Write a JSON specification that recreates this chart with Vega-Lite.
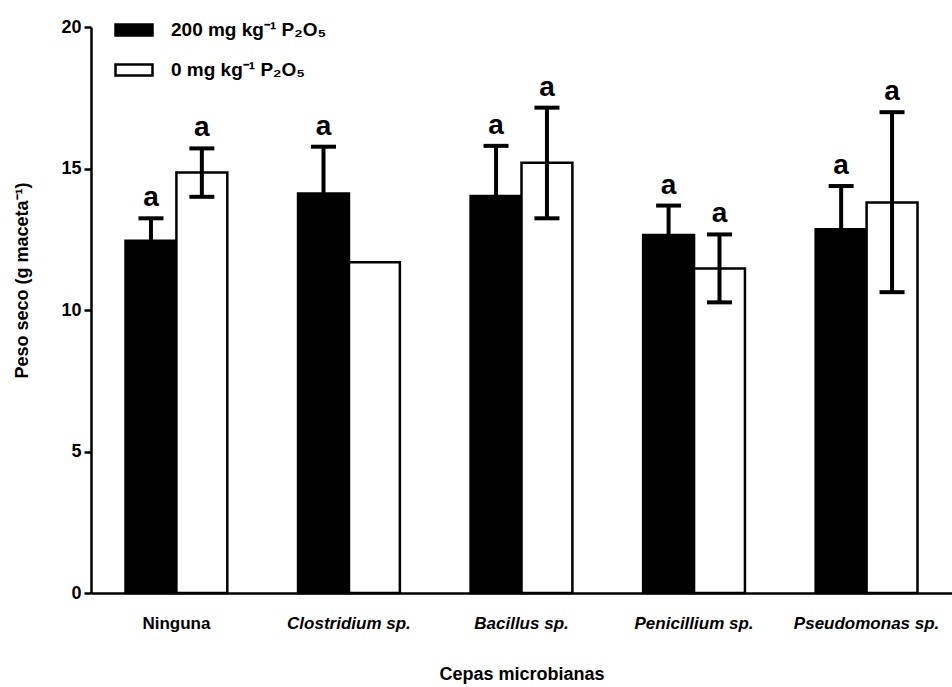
{
  "$schema": "https://vega.github.io/schema/vega-lite/v6.json",
  "autosize": "none",
  "width": 861,
  "height": 566,
  "padding": {"left": 91, "top": 27, "right": 0, "bottom": 94},
  "background": "white",
  "config": {
    "view": {"stroke": null},
    "font": "Liberation Sans",
    "axis": {"grid": false, "domainColor": "black", "domainWidth": 2.5, "tickColor": "black", "labelColor": "black", "titleColor": "black", "labelFontWeight": "bold", "titleFontWeight": "bold"}
  },
  "data": {
    "values": [
      {"cepa": "Ninguna", "serie": "200 mg kg⁻¹ P₂O₅", "peso": 12.45, "lo": 11.67, "hi": 13.24, "letra": "a"},
      {"cepa": "Ninguna", "serie": "0 mg kg⁻¹ P₂O₅", "peso": 14.86, "lo": 14.0, "hi": 15.71, "letra": "a"},
      {"cepa": "Clostridium sp.", "serie": "200 mg kg⁻¹ P₂O₅", "peso": 14.12, "lo": 12.47, "hi": 15.77, "letra": "a"},
      {"cepa": "Clostridium sp.", "serie": "0 mg kg⁻¹ P₂O₅", "peso": 11.69, "lo": null, "hi": null, "letra": null},
      {"cepa": "Bacillus sp.", "serie": "200 mg kg⁻¹ P₂O₅", "peso": 14.03, "lo": 12.26, "hi": 15.8, "letra": "a"},
      {"cepa": "Bacillus sp.", "serie": "0 mg kg⁻¹ P₂O₅", "peso": 15.2, "lo": 13.24, "hi": 17.15, "letra": "a"},
      {"cepa": "Penicillium sp.", "serie": "200 mg kg⁻¹ P₂O₅", "peso": 12.65, "lo": 11.61, "hi": 13.69, "letra": "a"},
      {"cepa": "Penicillium sp.", "serie": "0 mg kg⁻¹ P₂O₅", "peso": 11.47, "lo": 10.27, "hi": 12.67, "letra": "a"},
      {"cepa": "Pseudomonas sp.", "serie": "200 mg kg⁻¹ P₂O₅", "peso": 12.85, "lo": 11.32, "hi": 14.38, "letra": "a"},
      {"cepa": "Pseudomonas sp.", "serie": "0 mg kg⁻¹ P₂O₅", "peso": 13.8, "lo": 10.63, "hi": 16.99, "letra": "a"}
    ]
  },
  "encoding": {
    "x": {
      "field": "cepa",
      "type": "nominal",
      "sort": null,
      "scale": {"paddingInner": 0.41, "paddingOuter": 0.2},
      "axis": {
        "title": "Cepas microbianas",
        "labelAngle": 0,
        "ticks": false,
        "labelFontSize": 17,
        "labelPadding": 22,
        "labelFontStyle": {"condition": {"test": "datum.value != 'Ninguna'", "value": "italic"}, "value": "normal"},
        "titleFontSize": 18,
        "titleY": 72,
        "titleBaseline": "top"
      }
    },
    "xOffset": {"field": "serie", "type": "nominal", "sort": ["200 mg kg⁻¹ P₂O₅", "0 mg kg⁻¹ P₂O₅"]}
  },
  "layer": [
    {
      "mark": {"type": "bar", "stroke": "black", "strokeWidth": 2.5},
      "encoding": {
        "y": {
          "field": "peso",
          "type": "quantitative",
          "scale": {"domain": [0, 20], "nice": false},
          "axis": {
            "title": "Peso seco (g maceta⁻¹)",
            "values": [0, 5, 10, 15, 20],
            "format": "d",
            "tickSize": 7,
            "tickWidth": 2.5,
            "labelPadding": 3,
            "labelFontSize": 18,
            "titleFontSize": 18,
            "titleX": -69,
            "titleY": 253,
            "titleBaseline": "middle",
            "titleAlign": "center",
            "titleAngle": -90
          }
        },
        "fill": {
          "field": "serie",
          "type": "nominal",
          "sort": ["200 mg kg⁻¹ P₂O₅", "0 mg kg⁻¹ P₂O₅"],
          "scale": {"range": ["black", "white"]},
          "legend": {
            "title": null,
            "orient": "none",
            "legendX": 23,
            "legendY": -17,
            "padding": 0,
            "symbolType": "M-1,-0.3H1V0.3H-1Z",
            "symbolSize": 1369,
            "symbolStrokeColor": "black",
            "symbolStrokeWidth": 2.5,
            "symbolOpacity": 1,
            "labelFontSize": 19,
            "labelFontWeight": "bold",
            "labelColor": "black",
            "labelOffset": 17,
            "rowPadding": 9,
            "labelLimit": 400
          }
        }
      }
    },
    {
      "transform": [{"filter": "datum.hi != null"}],
      "mark": {"type": "rule", "color": "black", "strokeWidth": 4},
      "encoding": {
        "y": {"field": "lo", "type": "quantitative"},
        "y2": {"field": "hi"}
      }
    },
    {
      "transform": [{"filter": "datum.hi != null"}],
      "mark": {"type": "tick", "color": "black", "thickness": 4, "size": 25, "opacity": 1},
      "encoding": {"y": {"field": "hi", "type": "quantitative"}}
    },
    {
      "transform": [{"filter": "datum.lo != null"}],
      "mark": {"type": "tick", "color": "black", "thickness": 4, "size": 25, "opacity": 1},
      "encoding": {"y": {"field": "lo", "type": "quantitative"}}
    },
    {
      "transform": [{"filter": "datum.letra != null"}],
      "mark": {"type": "text", "fontSize": 28, "fontWeight": "bold", "color": "black", "baseline": "alphabetic", "dy": -12},
      "encoding": {
        "y": {"field": "hi", "type": "quantitative"},
        "text": {"field": "letra"}
      }
    }
  ]
}
